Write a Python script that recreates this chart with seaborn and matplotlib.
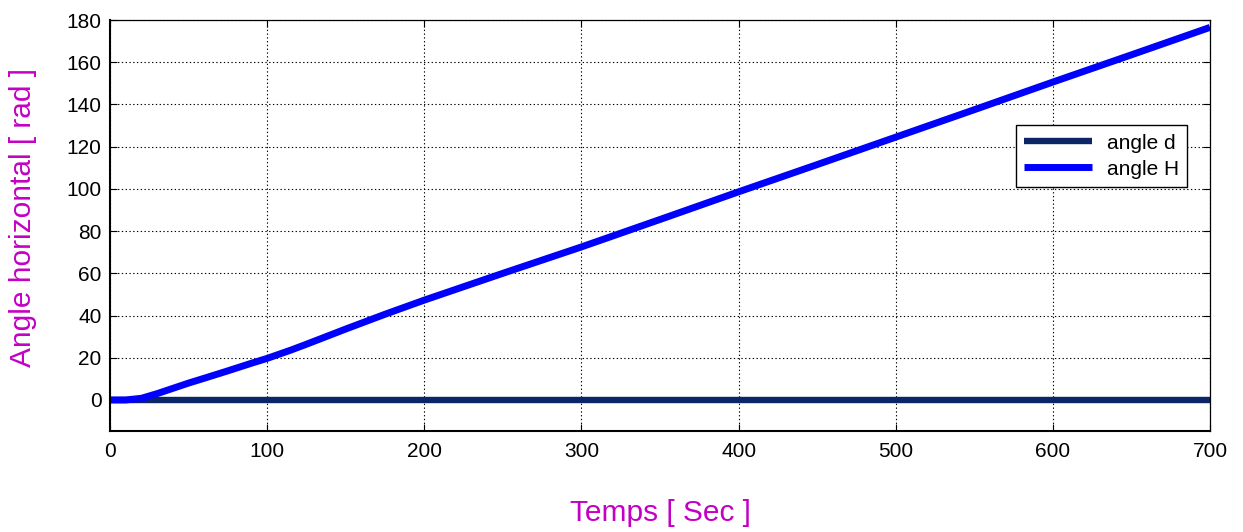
import matplotlib
matplotlib.use("Agg")
import matplotlib.pyplot as plt
import seaborn as sns
import pandas as pd
import numpy as np

# ---- data ----
temps = [0, 10, 20, 30, 40, 50, 60, 75, 90, 100, 115, 125, 150, 175, 200, 250, 300,
         350, 400, 450, 500, 550, 600, 650, 700]
angle_H = [0, 0, 0.8, 3.0, 5.5, 8.0, 10.3, 13.8, 17.4, 19.7, 23.6, 26.4, 33.6, 40.6, 47.3,
           60.0, 72.5, 85.5, 98.6, 111.5, 124.5, 137.5, 150.6, 163.5, 176.5]
angle_d = [0.0] * len(temps)
series_names = ["angle d", "angle H"]
x_ticks = [0, 100, 200, 300, 400, 500, 600, 700]
y_ticks = [0, 20, 40, 60, 80, 100, 120, 140, 160, 180]

df = pd.concat([
    pd.DataFrame({"t": temps, "v": angle_d, "s": series_names[0]}),
    pd.DataFrame({"t": temps, "v": angle_H, "s": series_names[1]}),
], ignore_index=True)

sns.set_theme(style="white")
plt.rcParams["font.family"] = ["Liberation Sans", "DejaVu Sans"]
plt.rcParams["text.color"] = "black"

fig = plt.figure(figsize=(12.43, 5.32), dpi=100)
ax = fig.add_axes([110 / 1243, 1 - 431 / 532, 1100 / 1243, 411 / 532])

palette = {"angle d": "#0b2566", "angle H": "#0000ff"}
sns.lineplot(data=df[df.s == "angle d"], x="t", y="v", color=palette["angle d"],
             lw=4.6, ax=ax, label="angle d", solid_capstyle="butt")
sns.lineplot(data=df[df.s == "angle H"], x="t", y="v", color=palette["angle H"],
             lw=5.0, ax=ax, label="angle H", solid_capstyle="butt")

ax.set_xlim(0, 700)
ax.set_ylim(-14.7, 180)
ax.set_xticks(x_ticks)
ax.set_yticks(y_ticks)
ax.grid(True, color="black", linestyle=(0, (1.2, 2.2)), linewidth=0.8)
ax.tick_params(direction="in", length=5, width=0.8, colors="black",
               labelsize=15, top=True, right=True, left=True, bottom=True)
ax.tick_params(axis="y", pad=6)
ax.tick_params(axis="x", pad=8)
for side, sp in ax.spines.items():
    sp.set_visible(True)
    sp.set_color("black")
    sp.set_linewidth(1.5 if side in ("left", "bottom") else 0.9)

mag = "#c400c4"
ax.set_xlabel("Temps [ Sec ]", fontsize=21.5, color=mag)
ax.set_ylabel("Angle horizontal [ rad ]", fontsize=21.5, color=mag)
ax.xaxis.set_label_coords(0.5, -0.165)
ax.yaxis.set_label_coords(-0.066, 0.52)

leg = ax.legend(loc="upper left", bbox_to_anchor=(0.8234, 0.7445), fontsize=15,
                frameon=True, fancybox=False, framealpha=1, edgecolor="black",
                handlelength=3.3, handletextpad=0.7, borderpad=0.38,
                labelspacing=0.3, borderaxespad=0, handleheight=0.9)
leg.get_frame().set_linewidth(1.0)
for t in leg.get_texts():
    t.set_color("black")

fig.savefig("out.png", dpi=100, facecolor="white")
